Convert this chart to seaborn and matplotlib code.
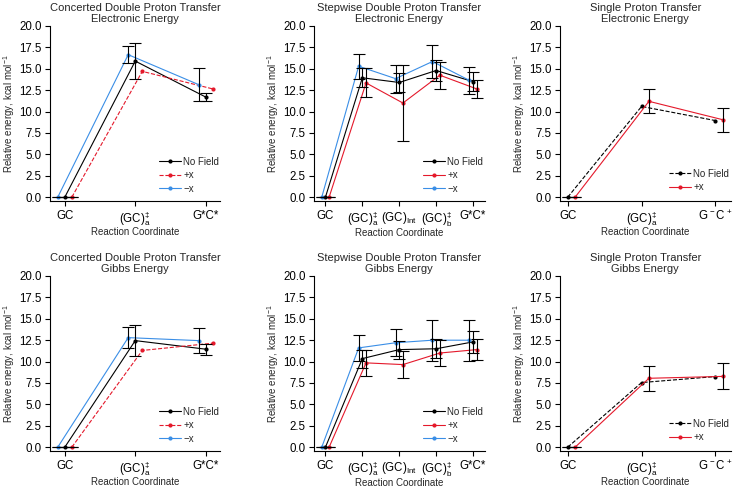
import numpy as np
import matplotlib
matplotlib.use("Agg")
import matplotlib.pyplot as plt
import seaborn as sns

nan = np.nan

# ---------------- categories ----------------
cats_concerted = ["GC", "(GC)$^{‡}_{a}$", "G*C*"]
cats_stepwise = ["GC", "(GC)$^{‡}_{a}$", "(GC)$_{Int}$", "(GC)$^{‡}_{b}$", "G*C*"]
cats_single = ["GC", "(GC)$^{‡}_{a}$", "G$^{\\,-}$C$^{\\,+}$"]

# ---------------- Electronic energy ----------------
conc_el_nofield = [0.0, 15.9, 11.7]
conc_el_nofield_err = [0.0, 2.15, 0.5]
conc_el_plusx = [0.0, 14.7, 12.65]
conc_el_plusx_err = [0.0, nan, nan]
conc_el_minusx = [0.0, 16.65, 13.15]
conc_el_minusx_err = [0.0, 1.0, 1.9]

step_el_nofield = [0.0, 13.95, 13.4, 14.8, 13.5]
step_el_nofield_err = [0.0, 1.1, 1.1, 1.25, 1.1]
step_el_plusx = [0.0, 13.35, 11.0, 14.25, 12.65]
step_el_plusx_err = [0.0, 1.7, 4.4, 1.6, 1.05]
step_el_minusx = [0.0, 15.3, 13.85, 15.85, 13.65]
step_el_minusx_err = [0.0, 1.45, 1.65, 1.9, 1.55]

single_el_nofield = [0.0, 10.6, 8.95]
single_el_nofield_err = [0.0, nan, nan]
single_el_plusx = [0.0, 11.2, 9.05]
single_el_plusx_err = [0.0, 1.4, 1.4]

# ---------------- Gibbs energy ----------------
conc_g_nofield = [0.0, 12.45, 11.45]
conc_g_nofield_err = [0.0, 1.85, 0.65]
conc_g_plusx = [0.0, 11.3, 12.15]
conc_g_plusx_err = [0.0, nan, nan]
conc_g_minusx = [0.0, 12.8, 12.45]
conc_g_minusx_err = [0.0, 1.2, 1.45]

step_g_nofield = [0.0, 10.35, 11.4, 11.5, 12.3]
step_g_nofield_err = [0.0, 1.05, 1.05, 1.1, 1.3]
step_g_plusx = [0.0, 9.85, 9.65, 11.0, 11.4]
step_g_plusx_err = [0.0, 1.5, 1.55, 1.5, 1.25]
step_g_minusx = [0.0, 11.6, 12.2, 12.5, 12.5]
step_g_minusx_err = [0.0, 1.55, 1.6, 2.4, 2.4]

single_g_nofield = [0.0, 7.55, 8.25]
single_g_nofield_err = [0.0, nan, nan]
single_g_plusx = [0.0, 8.05, 8.27]
single_g_plusx_err = [0.0, 1.45, 1.52]

yticks = [0.0, 2.5, 5.0, 7.5, 10.0, 12.5, 15.0, 17.5, 20.0]

# ---------------- style ----------------
sns.set_style("ticks")
plt.rcParams["font.family"] = ["Liberation Sans", "DejaVu Sans"]
plt.rcParams["mathtext.fontset"] = "custom"
plt.rcParams["mathtext.rm"] = "Liberation Sans"
plt.rcParams["mathtext.it"] = "Liberation Sans:italic"
plt.rcParams["mathtext.bf"] = "Liberation Sans:bold"
plt.rcParams["mathtext.default"] = "regular"
plt.rcParams["axes.linewidth"] = 0.8
plt.rcParams["axes.edgecolor"] = "black"
plt.rcParams["xtick.color"] = "black"
plt.rcParams["ytick.color"] = "black"

RED = "#e4192b"
BLUE = "#3a8ee6"
COLORS = {"No Field": "black", "+x": RED, "−x": BLUE}
OFFSETS = {"No Field": 0.0, "+x": 0.1, "−x": -0.1}

panels = [
    dict(title="Concerted Double Proton Transfer\nElectronic Energy", cats=cats_concerted,
         series=[("No Field", conc_el_nofield, conc_el_nofield_err, "-"),
                 ("+x", conc_el_plusx, conc_el_plusx_err, "--"),
                 ("−x", conc_el_minusx, conc_el_minusx_err, "-")]),
    dict(title="Stepwise Double Proton Transfer\nElectronic Energy", cats=cats_stepwise,
         series=[("No Field", step_el_nofield, step_el_nofield_err, "-"),
                 ("+x", step_el_plusx, step_el_plusx_err, "-"),
                 ("−x", step_el_minusx, step_el_minusx_err, "-")]),
    dict(title="Single Proton Transfer\nElectronic Energy", cats=cats_single,
         series=[("No Field", single_el_nofield, single_el_nofield_err, "--"),
                 ("+x", single_el_plusx, single_el_plusx_err, "-")]),
    dict(title="Concerted Double Proton Transfer\nGibbs Energy", cats=cats_concerted,
         series=[("No Field", conc_g_nofield, conc_g_nofield_err, "-"),
                 ("+x", conc_g_plusx, conc_g_plusx_err, "--"),
                 ("−x", conc_g_minusx, conc_g_minusx_err, "-")]),
    dict(title="Stepwise Double Proton Transfer\nGibbs Energy", cats=cats_stepwise,
         series=[("No Field", step_g_nofield, step_g_nofield_err, "-"),
                 ("+x", step_g_plusx, step_g_plusx_err, "-"),
                 ("−x", step_g_minusx, step_g_minusx_err, "-")]),
    dict(title="Single Proton Transfer\nGibbs Energy", cats=cats_single,
         series=[("No Field", single_g_nofield, single_g_nofield_err, "--"),
                 ("+x", single_g_plusx, single_g_plusx_err, "-")]),
]

W, H = 736, 487
fig = plt.figure(figsize=(W / 100, H / 100), dpi=100)
lefts = [50, 314, 560]
tops = [26, 276]
aw, ah = 170.5, 174.6

for i, p in enumerate(panels):
    r, c = divmod(i, 3)
    ax = fig.add_axes([lefts[c] / W, 1 - (tops[r] + ah) / H, aw / W, ah / H])
    n = len(p["cats"])
    for name, vals, err, ls in p["series"]:
        x = np.arange(n) + OFFSETS[name]
        y = np.asarray(vals, dtype=float)
        e = np.asarray(err, dtype=float)
        sns.lineplot(x=x, y=y, ax=ax, color=COLORS[name], linestyle=ls, linewidth=0.8,
                     marker="o", markersize=3.0, markeredgewidth=0, label=name,
                     errorbar=None, sort=False)
        m = ~np.isnan(e)
        ax.errorbar(x[m], y[m], yerr=e[m], fmt="none", ecolor="black",
                    elinewidth=0.8, capsize=4.5, capthick=0.8, zorder=3)
    ax.set_xticks(np.arange(n))
    ax.set_xticklabels(p["cats"])
    ax.set_yticks(yticks)
    ax.set_yticklabels([f"{v:.1f}" for v in yticks])
    ax.set_ylim(-0.4, 20.0)
    ax.tick_params(direction="out", length=3.5, width=0.8, labelsize=8.3, pad=3)
    ax.tick_params(axis="y", pad=2.5)
    ax.set_xlabel("Reaction Coordinate", fontsize=7, labelpad=-1.0)
    ax.set_ylabel("Relative energy, kcal mol$^{-1}$", fontsize=7, labelpad=1.5)
    ax.set_title(p["title"], fontsize=8, pad=3, linespacing=1.1)
    nser = len(p["series"])
    ax.legend(loc="center left", bbox_to_anchor=(0.64, 0.145 if nser == 3 else 0.115),
              frameon=False, fontsize=7, handlelength=2.2, handletextpad=0.3,
              labelspacing=0.35, borderpad=0, borderaxespad=0)
    sns.despine(ax=ax)

fig.savefig("out.png", dpi=100)
